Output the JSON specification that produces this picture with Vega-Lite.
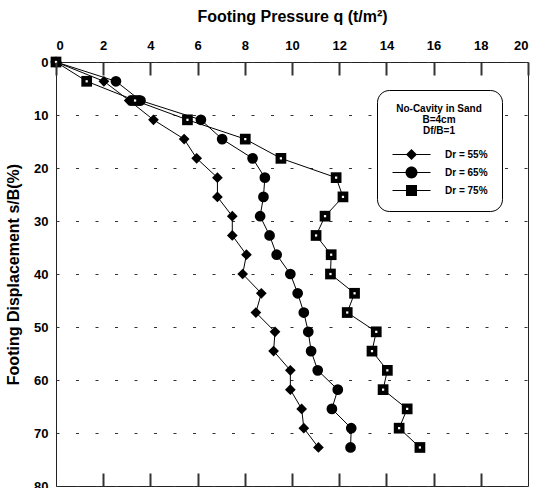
{
  "$schema": "https://vega.github.io/schema/vega-lite/v6.json",
  "autosize": "none",
  "width": 472,
  "height": 424,
  "padding": {"left": 56, "top": 62, "right": 18, "bottom": 2},
  "background": "white",
  "config": {
    "view": {"stroke": "#222", "strokeWidth": 1},
    "font": "Liberation Sans",
    "axis": {
      "labelFont": "Liberation Sans",
      "labelFontWeight": "bold",
      "labelFontSize": 13,
      "labelColor": "black",
      "titleFont": "Liberation Sans",
      "titleColor": "black",
      "domain": false,
      "ticks": true,
      "tickColor": "#333",
      "tickWidth": 2,
      "tickSize": 13
    }
  },
  "data": {
    "values": [
      {"series": "Dr = 55%", "s": 0, "q": 0},
      {"series": "Dr = 55%", "s": 3.64, "q": 2.03},
      {"series": "Dr = 55%", "s": 7.27, "q": 3.1},
      {"series": "Dr = 55%", "s": 10.91, "q": 4.13},
      {"series": "Dr = 55%", "s": 14.55, "q": 5.43},
      {"series": "Dr = 55%", "s": 18.18, "q": 5.96},
      {"series": "Dr = 55%", "s": 21.82, "q": 6.84},
      {"series": "Dr = 55%", "s": 25.45, "q": 6.84},
      {"series": "Dr = 55%", "s": 29.09, "q": 7.47},
      {"series": "Dr = 55%", "s": 32.73, "q": 7.47},
      {"series": "Dr = 55%", "s": 36.36, "q": 8.07},
      {"series": "Dr = 55%", "s": 40.0, "q": 7.91},
      {"series": "Dr = 55%", "s": 43.64, "q": 8.7},
      {"series": "Dr = 55%", "s": 47.27, "q": 8.47},
      {"series": "Dr = 55%", "s": 50.91, "q": 9.28},
      {"series": "Dr = 55%", "s": 54.55, "q": 9.22},
      {"series": "Dr = 55%", "s": 58.18, "q": 9.93},
      {"series": "Dr = 55%", "s": 61.82, "q": 9.93},
      {"series": "Dr = 55%", "s": 65.45, "q": 10.41},
      {"series": "Dr = 55%", "s": 69.09, "q": 10.5},
      {"series": "Dr = 55%", "s": 72.73, "q": 11.12},
      {"series": "Dr = 65%", "s": 0, "q": 0},
      {"series": "Dr = 65%", "s": 3.64, "q": 2.54},
      {"series": "Dr = 65%", "s": 7.27, "q": 3.58},
      {"series": "Dr = 65%", "s": 10.91, "q": 6.14},
      {"series": "Dr = 65%", "s": 14.55, "q": 7.04},
      {"series": "Dr = 65%", "s": 18.18, "q": 8.33},
      {"series": "Dr = 65%", "s": 21.82, "q": 8.85},
      {"series": "Dr = 65%", "s": 25.45, "q": 8.79},
      {"series": "Dr = 65%", "s": 29.09, "q": 8.65},
      {"series": "Dr = 65%", "s": 32.73, "q": 9.05},
      {"series": "Dr = 65%", "s": 36.36, "q": 9.35},
      {"series": "Dr = 65%", "s": 40.0, "q": 9.93},
      {"series": "Dr = 65%", "s": 43.64, "q": 10.24},
      {"series": "Dr = 65%", "s": 47.27, "q": 10.5},
      {"series": "Dr = 65%", "s": 50.91, "q": 10.69},
      {"series": "Dr = 65%", "s": 54.55, "q": 10.81},
      {"series": "Dr = 65%", "s": 58.18, "q": 11.09},
      {"series": "Dr = 65%", "s": 61.82, "q": 11.94},
      {"series": "Dr = 65%", "s": 65.45, "q": 11.69},
      {"series": "Dr = 65%", "s": 69.09, "q": 12.51},
      {"series": "Dr = 65%", "s": 72.73, "q": 12.48},
      {"series": "Dr = 75%", "s": 0, "q": 0},
      {"series": "Dr = 75%", "s": 3.64, "q": 1.3},
      {"series": "Dr = 75%", "s": 7.27, "q": 3.35},
      {"series": "Dr = 75%", "s": 10.91, "q": 5.57},
      {"series": "Dr = 75%", "s": 14.55, "q": 8.02},
      {"series": "Dr = 75%", "s": 18.18, "q": 9.53},
      {"series": "Dr = 75%", "s": 21.82, "q": 11.87},
      {"series": "Dr = 75%", "s": 25.45, "q": 12.16},
      {"series": "Dr = 75%", "s": 29.09, "q": 11.4},
      {"series": "Dr = 75%", "s": 32.73, "q": 11.02},
      {"series": "Dr = 75%", "s": 36.36, "q": 11.66},
      {"series": "Dr = 75%", "s": 40.0, "q": 11.63},
      {"series": "Dr = 75%", "s": 43.64, "q": 12.65},
      {"series": "Dr = 75%", "s": 47.27, "q": 12.34},
      {"series": "Dr = 75%", "s": 50.91, "q": 13.57},
      {"series": "Dr = 75%", "s": 54.55, "q": 13.39},
      {"series": "Dr = 75%", "s": 58.18, "q": 14.04},
      {"series": "Dr = 75%", "s": 61.82, "q": 13.86},
      {"series": "Dr = 75%", "s": 65.45, "q": 14.88},
      {"series": "Dr = 75%", "s": 69.09, "q": 14.54},
      {"series": "Dr = 75%", "s": 72.73, "q": 15.42}
    ]
  },
  "resolve": {"axis": {"x": "independent"}, "scale": {"shape": "independent"}},
  "layer": [
    {
      "mark": {"type": "line", "color": "black", "strokeWidth": 1},
      "encoding": {
        "x": {
          "field": "q", "type": "quantitative",
          "scale": {"domain": [0, 20], "nice": false},
          "axis": {
            "orient": "bottom", "offset": -13, "zindex": 1,
            "values": [2, 4, 6, 8, 10, 12, 14, 16, 18],
            "labels": false, "title": null, "grid": false
          }
        },
        "y": {
          "field": "s", "type": "quantitative",
          "scale": {"domain": [0, 80], "nice": false, "reverse": true},
          "axis": {
            "orient": "left", "values": [0, 10, 20, 30, 40, 50, 60, 70, 80],
            "title": "Footing Displacement  s/B(%)",
            "titleFontSize": 16, "titleFontWeight": "bold", "titlePadding": 12,
            "labelPadding": 8, "ticks": false,
            "grid": true, "gridColor": "#333", "gridWidth": 1, "gridDash": [3, 16.5]
          }
        },
        "detail": {"field": "series"},
        "order": {"field": "s", "type": "quantitative"}
      }
    },
    {
      "mark": {"type": "point", "filled": true, "color": "black", "opacity": 1, "size": 115},
      "encoding": {
        "x": {
          "field": "q", "type": "quantitative",
          "axis": {
            "orient": "top", "offset": -13, "zindex": 1,
            "values": [0, 2, 4, 6, 8, 10, 12, 14, 16, 18, 20],
            "title": "Footing Pressure q (t/m²)",
            "titleFontSize": 16, "titleFontWeight": "bold", "titlePadding": 15,
            "labelPadding": 10, "grid": false
          }
        },
        "y": {"field": "s", "type": "quantitative"},
        "shape": {
          "field": "series", "type": "nominal",
          "scale": {
            "domain": ["Dr = 55%", "Dr = 65%", "Dr = 75%"],
            "range": ["diamond", "circle", "square"]
          },
          "legend": null
        }
      }
    },
    {
      "transform": [{"filter": "datum.series == 'Dr = 75%'"}],
      "mark": {"type": "point", "shape": "square", "filled": true, "color": "white", "size": 5, "opacity": 1},
      "encoding": {
        "x": {"field": "q", "type": "quantitative", "axis": null},
        "y": {"field": "s", "type": "quantitative"}
      }
    },
    {
      "description": "legend key: marker with a short line through it",
      "transform": [{"filter": "false"}],
      "mark": {"type": "point", "filled": true, "color": "black", "opacity": 1},
      "encoding": {
        "x": {"field": "q", "type": "quantitative", "axis": null},
        "y": {"field": "s", "type": "quantitative"},
        "shape": {
          "field": "series", "type": "nominal",
          "scale": {
            "domain": ["Dr = 55%", "Dr = 65%", "Dr = 75%"],
            "range": [
              "M-2,-0.055H2V0.055H-2Z M0,-0.58L0.58,0L0,0.58L-0.58,0Z",
              "M-2,-0.055H2V0.055H-2Z M-0.63,0A0.63,0.63 0 1,1 0.63,0A0.63,0.63 0 1,1 -0.63,0Z",
              "M-2,-0.055H2V0.055H-2Z M-0.58,-0.58H0.58V0.58H-0.58Z"
            ]
          },
          "legend": {
            "orient": "none",
            "legendX": 321,
            "legendY": 28,
            "title": ["No-Cavity in Sand", "B=4cm", "Df/B=1"],
            "titleFontSize": 10,
            "titleFontWeight": "bold",
            "titleLineHeight": 11,
            "titleAnchor": "middle",
            "titleAlign": "center",
            "titlePadding": 9,
            "titleColor": "black",
            "labelFontSize": 10,
            "labelFontWeight": "bold",
            "labelColor": "black",
            "labelOffset": 24,
            "symbolSize": 361,
            "symbolOffset": 11,
            "symbolFillColor": "black",
            "symbolStrokeWidth": 0,
            "rowPadding": 2,
            "padding": 14,
            "strokeColor": "black",
            "fillColor": "white",
            "cornerRadius": 12
          }
        }
      }
    }
  ]
}
